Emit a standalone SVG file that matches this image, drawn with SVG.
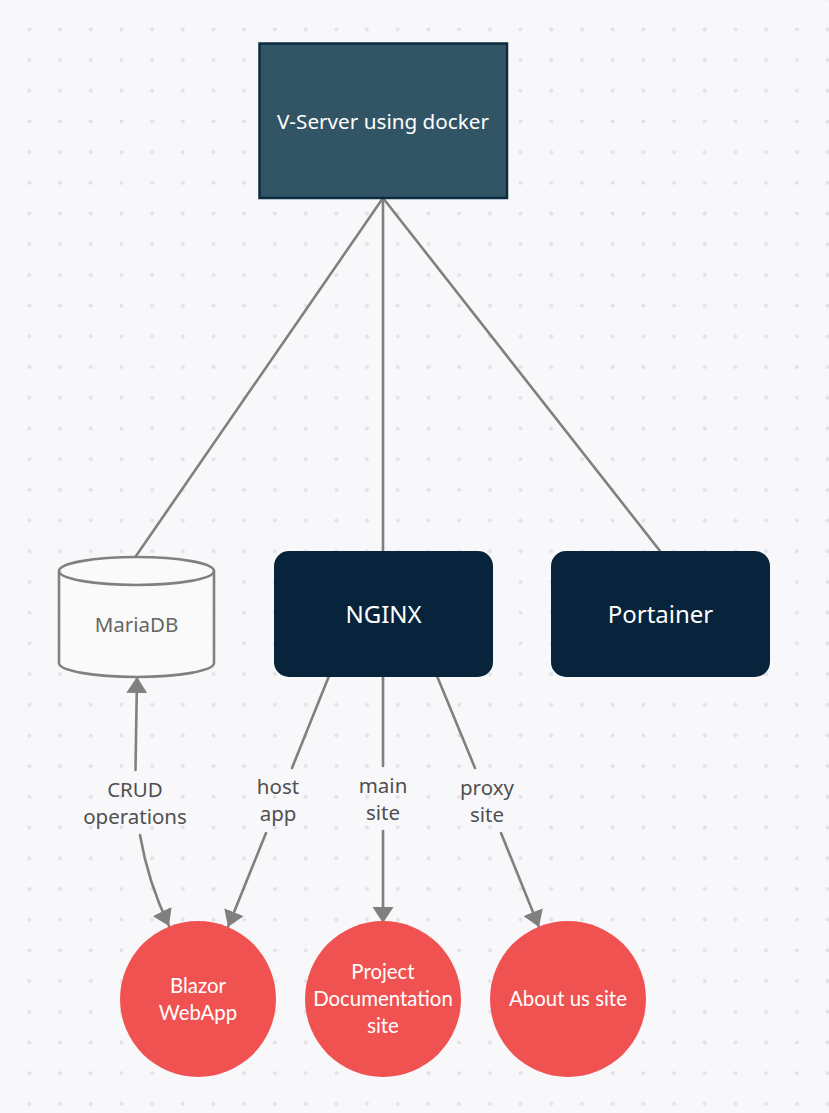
<svg xmlns="http://www.w3.org/2000/svg" width="829" height="1113" viewBox="0 0 829 1113">
<style>
.conn{fill:none;stroke:#808080;stroke-width:2.6;stroke-linecap:round}
.lbl{font-family:"Noto Sans","Open Sans",sans-serif;font-size:20.5px;fill:#505050;text-anchor:middle}
.box{font-family:"Noto Sans","Open Sans",sans-serif;fill:#ffffff;text-anchor:middle}
.circ{fill:#f05252}
.ctext{font-family:Lato,"Noto Sans",sans-serif;font-size:20.4px;fill:#ffffff;text-anchor:middle}
</style>
<defs>
<pattern id="dots" patternUnits="userSpaceOnUse" x="14" y="14" width="30.7" height="30.7">
<circle cx="15.35" cy="15.35" r="2" fill="#e1e1e6"/>
</pattern>
<marker id="arr" markerUnits="userSpaceOnUse" markerWidth="17" markerHeight="21" refX="16" refY="10.5" orient="auto">
<path d="M0,0 L16,10.5 L0,21 Z" fill="#808080"/>
</marker>
</defs>
<rect width="829" height="1113" fill="#f8f8fb"/>
<rect width="829" height="1113" fill="url(#dots)"/>

<g id="connectors">
<path class="conn" d="M383,198 L136,556"/>
<path class="conn" d="M383,198 L383,551"/>
<path class="conn" d="M383,198 L660,551"/>
<path class="conn" d="M135.5,770 L137,677" marker-end="url(#arr)"/>
<path class="conn" d="M140,835 Q148,882 169,926" marker-end="url(#arr)"/>
<path class="conn" d="M329,676 L292,768"/>
<path class="conn" d="M266,833 L228,927" marker-end="url(#arr)"/>
<path class="conn" d="M383,677 L383,766"/>
<path class="conn" d="M383,831 L383,923" marker-end="url(#arr)"/>
<path class="conn" d="M437,676 L475,768"/>
<path class="conn" d="M501,833 L539,927" marker-end="url(#arr)"/>
<text class="lbl" x="135" y="797">CRUD</text>
<text class="lbl" x="135" y="824">operations</text>
<text class="lbl" x="278" y="794">host</text>
<text class="lbl" x="278" y="821">app</text>
<text class="lbl" x="383" y="793">main</text>
<text class="lbl" x="383" y="820">site</text>
<text class="lbl" x="487" y="795">proxy</text>
<text class="lbl" x="487" y="822">site</text>
</g>

<g id="vserver">
<rect x="259.5" y="43.5" width="247.5" height="154.5" fill="#325566" stroke="#0b2b40" stroke-width="2.5"/>
<text class="box" x="383" y="129" font-size="20.7">V-Server using docker</text>
</g>

<g id="mariadb">
<path d="M59,571 A77.5,14 0 0,1 214,571 L214,663 A77.5,14 0 0,1 59,663 Z" fill="#fafafa" stroke="#808080" stroke-width="2.6"/>
<path d="M59,571 A77.5,14 0 0,0 214,571" fill="none" stroke="#808080" stroke-width="2.6"/>
<text x="136.5" y="632" font-family="Noto Sans, Open Sans, sans-serif" font-size="20.5" fill="#666666" text-anchor="middle">MariaDB</text>
</g>

<g id="nginx">
<rect x="274" y="551" width="219" height="126" rx="15" fill="#07243c"/>
<text class="box" x="383.5" y="623" font-size="24">NGINX</text>
</g>

<g id="portainer">
<rect x="551" y="551" width="219" height="126" rx="15" fill="#07243c"/>
<text class="box" x="660.5" y="623" font-size="24">Portainer</text>
</g>

<g id="blazor">
<circle class="circ" cx="198" cy="999" r="78"/>
<text class="ctext" x="198" y="993">Blazor</text>
<text class="ctext" x="198" y="1020">WebApp</text>
</g>

<g id="projectdoc">
<circle class="circ" cx="383" cy="999" r="78"/>
<text class="ctext" x="383" y="979">Project</text>
<text class="ctext" x="383" y="1006">Documentation</text>
<text class="ctext" x="383" y="1033">site</text>
</g>

<g id="aboutus">
<circle class="circ" cx="568" cy="999" r="78"/>
<text class="ctext" x="568" y="1006">About us site</text>
</g>
</svg>
